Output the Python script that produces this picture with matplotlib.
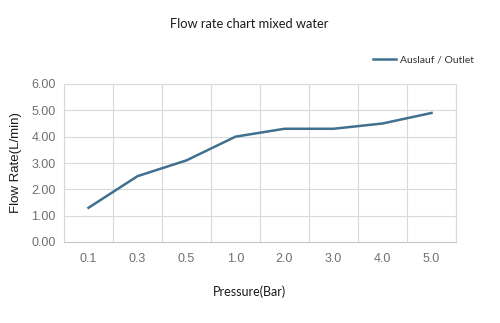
import matplotlib.pyplot as plt
import numpy as np

pressure = ["0.1", "0.3", "0.5", "1.0", "2.0", "3.0", "4.0", "5.0"]
flow_rate = [1.3, 2.5, 3.1, 4.0, 4.3, 4.3, 4.5, 4.9]
y_ticks = [0, 1, 2, 3, 4, 5, 6]

grid_col = "#d9d9d9"
line_col = "#41708f"

fig = plt.figure(figsize=(5, 3.23), dpi=100)
ax = fig.add_axes([64/500, 1 - 242/323, (456-64)/500, (242-84)/323])

x = np.arange(len(pressure))
ax.plot(x, flow_rate, color=line_col, lw=1.8, solid_joinstyle="round",
        label="Auslauf / Outlet")

ax.set_xlim(-0.5, len(pressure) - 0.5)
ax.set_ylim(0, 6)
ax.set_yticks(y_ticks)
ax.set_yticklabels(["%.2f" % v for v in y_ticks])
ax.set_xticks(x)
ax.set_xticklabels(pressure)
ax.set_xticks(np.arange(len(pressure) + 1) - 0.5, minor=True)

ax.grid(True, axis="y", color=grid_col, lw=0.8)
ax.grid(True, axis="x", which="minor", color=grid_col, lw=0.8)
ax.set_axisbelow(True)
for s in ax.spines.values():
    s.set_color(grid_col)
    s.set_linewidth(0.8)
ax.spines["bottom"].set_color("#c8c8c8")

ax.tick_params(which="both", length=0, colors="#707070", labelsize=9,
               labelfontfamily="Liberation Sans")
ax.tick_params(axis="x", pad=8)
ax.tick_params(axis="y", pad=6)

ax.set_ylabel("Flow Rate(L/min)", family="Liberation Sans", fontsize=9.5,
              color="#1a1a1a", labelpad=7)
fig.text(0.498, 1 - 292/323, "Pressure(Bar)", family="Lato",
         fontsize=9, color="#1a1a1a", ha="center", va="center")
fig.text(0.498, 1 - 24/323, "Flow rate chart mixed water", family="Lato",
         fontsize=9.3, color="#1a1a1a", ha="center", va="center")

ax.legend(loc="center left", bbox_to_anchor=(364/500, 1 - 60/323),
          bbox_transform=fig.transFigure, frameon=False,
          prop={"family": "Lato", "size": 7.5}, handlelength=2.2,
          handletextpad=0.4, labelcolor="#333333")

plt.savefig("out.png", dpi=100)
